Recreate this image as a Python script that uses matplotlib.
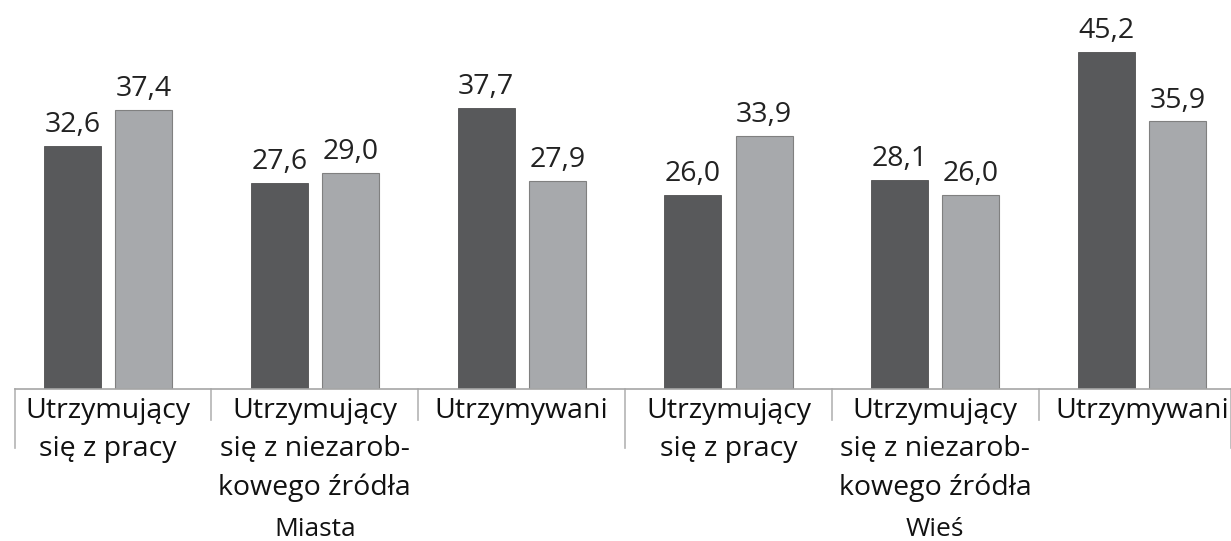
import matplotlib
matplotlib.use("Agg")
import matplotlib.pyplot as plt
import numpy as np

categories = ["Utrzymujący\nsię z pracy", "Utrzymujący\nsię z niezarob-\nkowego źródła", "Utrzymywani",
              "Utrzymujący\nsię z pracy", "Utrzymujący\nsię z niezarob-\nkowego źródła", "Utrzymywani"]
groups = ["Miasta", "Wieś"]
series_dark = [32.6, 27.6, 37.7, 26.0, 28.1, 45.2]
series_light = [37.4, 29.0, 27.9, 33.9, 26.0, 35.9]

plt.rcParams['font.family'] = ['Open Sans', 'DejaVu Sans']

W, H = 1231, 541
fig = plt.figure(figsize=(W/100, H/100), dpi=100)
ax = fig.add_axes([15/W, (H-389)/H, (W-15)/W, 389/H])

x = np.arange(len(categories))
bw = 0.276
off = 0.172
ax.bar(x - off, series_dark, bw, color='#58595b', edgecolor='#505050', linewidth=0.6)
ax.bar(x + off, series_light, bw, color='#a7a9ac', edgecolor='#808080', linewidth=0.8)

xmin, xmax = -0.45, 5.43
ax.set_xlim(xmin, xmax)
ax.set_ylim(0, 52.2)

fs = 20.5
for xi, v in zip(x - off, series_dark):
    ax.annotate(f"{v:.1f}".replace('.', ','), (xi, v), xytext=(0, 5), textcoords='offset points',
                ha='center', va='bottom', fontsize=fs, color='#222222')
for xi, v in zip(x + off, series_light):
    ax.annotate(f"{v:.1f}".replace('.', ','), (xi, v), xytext=(0, 5), textcoords='offset points',
                ha='center', va='bottom', fontsize=fs, color='#222222')

for s in ['top', 'right', 'left']:
    ax.spines[s].set_visible(False)
ax.spines['bottom'].set_color('#a6a6a6')
ax.spines['bottom'].set_linewidth(1.2)
ax.set_xticks([])
ax.set_yticks([])

trans = ax.get_xaxis_transform()
short = 31/389
long_ = 59/389
seps = [(xmin, long_), (0.5, short), (1.5, short), (2.5, long_), (3.5, short), (4.5, short), (xmax, long_)]
for sx, ln in seps:
    ax.plot([sx, sx], [0, -ln], transform=trans, color='#b4b4b4', lw=1.2, clip_on=False)

for xi, lab in zip(x, categories):
    ax.annotate(lab, (xi, 0), xycoords=trans, xytext=(0, -6), textcoords='offset points',
                ha='center', va='top', fontsize=fs, color='#111111', linespacing=1.47)

for gi, g in enumerate(groups):
    ax.annotate(g, (1 + 3*gi, 0), xycoords=trans, xytext=(0, -(536-389)*0.72), textcoords='offset points',
                ha='center', va='baseline', fontsize=19, color='#111111')

fig.savefig("out.png", dpi=100)
